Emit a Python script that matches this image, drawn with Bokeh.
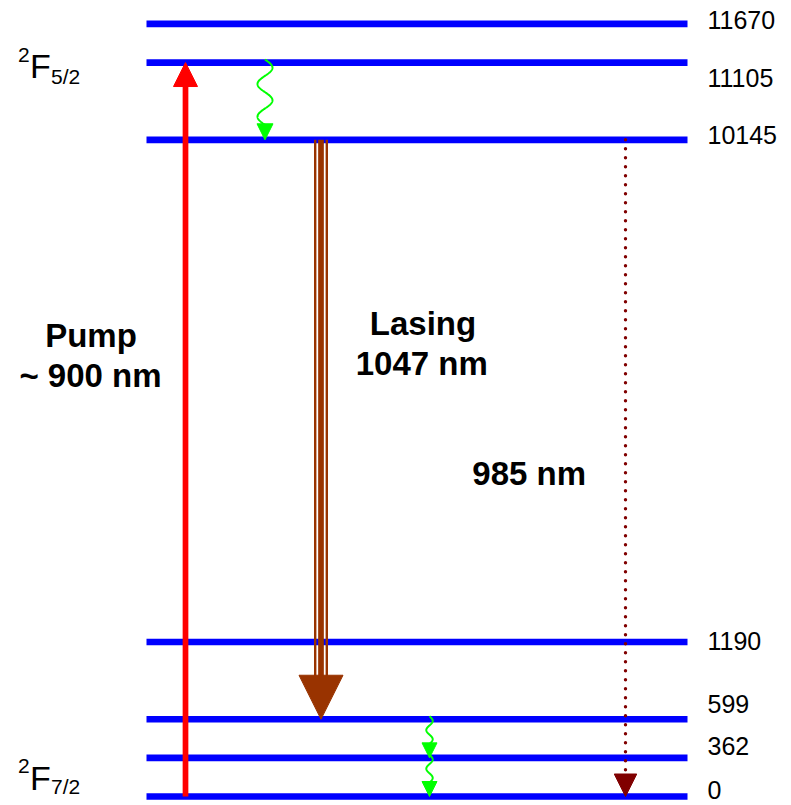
import numpy as np
from bokeh.plotting import figure
from bokeh.models import Range1d, Arrow, NormalHead
from bokeh.embed import file_html
from bokeh.resources import INLINE
from bokeh.core.properties import value

# ---------------- data ----------------
# Yb quasi-three-level scheme; energies in cm^-1
level_energy = [0, 362, 599, 1190, 10145, 11105, 11670]
level_label = ["0", "362", "599", "1190", "10145", "11105", "11670"]
# schematic (not to scale) vertical rank of each level in the diagram
level_slot = [0, 1, 2, 4, 17, 19, 20]
manifold_sup = ["2", "2"]
manifold_main = ["F", "F"]
manifold_sub = ["7/2", "5/2"]

pump_from, pump_to = 0, 11105
relax_upper = (11105, 10145)
lasing_from, lasing_to = 10145, 599
relax_lower = [(599, 362), (362, 0)]
fluor_from, fluor_to = 10145, 0

pump_text = ["Pump", "~ 900 nm"]
lasing_text = ["Lasing", "1047 nm"]
fluor_text = ["985 nm"]

# ---------------- layout ----------------
UNIT = 38.63          # px per schematic slot
Y0 = 796              # page y of slot 0
W, H = 791, 805
slot_of = dict(zip(level_energy, level_slot))


def sy(page_y):
    return (Y0 - page_y) / UNIT


def px(d):
    return d / UNIT


FONT = value("Liberation Sans")

p = figure(width=W, height=H,
           x_range=Range1d(0, W),
           y_range=Range1d(sy(H), sy(0)),
           output_backend="svg", toolbar_location=None,
           x_axis_location=None, y_axis_location=None, min_border=0)
p.grid.grid_line_color = None
p.outline_line_color = None
p.background_fill_color = "white"
p.border_fill_color = "white"

# energy levels
p.segment(x0=146, x1=687, y0=level_slot, y1=level_slot,
          line_color="#0000FF", line_width=6.7)

# label offsets (px, downward) relative to each level line
label_dy = [-7.0, -11.4, -15.6, -0.7, -4.5, 15.1, -4.4]
p.text(x=[707] * len(level_label), y=level_slot, text=level_label,
       y_offset=label_dy, text_font=FONT, text_font_size="25px",
       text_baseline="alphabetic", text_align="left", text_color="black")

# manifold labels
for (ys, yf, yb), sup, main, sub in zip([(765.0, 777.0, 786.0), (54.5, 65.0, 75.5)],
                                         manifold_sup, manifold_main, manifold_sub):
    p.text(x=[17.5], y=[sy(ys)], text=[sup], text_font=FONT, text_font_size="21px",
           text_baseline="alphabetic", text_color="black")
    p.text(x=[29.5], y=[sy(yf)], text=[main], text_font=FONT, text_font_size="34px",
           text_baseline="alphabetic", text_color="black")
    p.text(x=[50.5], y=[sy(yb)], text=[sub], text_font=FONT, text_font_size="21px",
           text_baseline="alphabetic", text_color="black")


def head(x, tip, size, color):
    p.add_layout(Arrow(end=NormalHead(size=size, fill_color=color, line_color=color, line_width=1),
                       x_start=x, y_start=tip + px(size + 10), x_end=x, y_end=tip,
                       line_alpha=0))


# pump arrow (upward)
PX_PUMP = 185
tip = slot_of[pump_to]
p.segment(x0=[PX_PUMP], x1=[PX_PUMP], y0=[slot_of[pump_from]], y1=[tip - px(20)],
          line_color="#FF0000", line_width=5.7)
p.add_layout(Arrow(end=NormalHead(size=24, fill_color="#FF0000", line_color="#FF0000", line_width=1),
                   x_start=PX_PUMP, y_start=tip - px(40), x_end=PX_PUMP, y_end=tip,
                   line_alpha=0))


# wavy non-radiative relaxation arrows
def wavy(xc, e_from, e_to, amp, cycles, hsize):
    y_top = slot_of[e_from] + px(3)
    tip = slot_of[e_to]
    length = (y_top - tip) - px(hsize) + px(1)
    t = np.linspace(0, 1, 300)
    xs = xc + amp * np.sin(2 * np.pi * cycles * t)
    ys = y_top - t * length
    p.line(xs, ys, line_color="#00FF00", line_width=2.0)
    head(xc, tip, hsize, "#00FF00")


wavy(264.5, relax_upper[0], relax_upper[1], 7.5, 2.0, 16)
for a, b in relax_lower:
    wavy(429, a, b, 3.2, 1.5, 15)

# lasing arrow (triple shaft)
PX_LAS = 320.5
tip = slot_of[lasing_to]
base = tip + px(44)
p.segment(x0=[PX_LAS], x1=[PX_LAS], y0=[slot_of[lasing_from]], y1=[base - px(2)],
          line_color="#993300", line_width=5.7)
p.segment(x0=[PX_LAS - 5.8, PX_LAS + 5.8], x1=[PX_LAS - 5.8, PX_LAS + 5.8],
          y0=[slot_of[lasing_from]] * 2, y1=[base - px(2)] * 2,
          line_color="#993300", line_width=2.4)
head(PX_LAS, tip, 44, "#993300")

# 985 nm fluorescence (dotted)
PX_FL = 625
tip = slot_of[fluor_to]
p.line([PX_FL, PX_FL], [slot_of[fluor_from], tip + px(20)], line_color="#800000",
       line_width=3.4, line_dash="0 9", line_cap="round")
head(PX_FL, tip, 22.5, "#800000")

# transition texts
bold = dict(text_font=FONT, text_font_style="bold", text_font_size="33px",
            text_align="center", text_baseline="alphabetic", text_color="black")
p.text(x=[90.5, 90], y=[sy(335.3), sy(374.7)], text=pump_text, **bold)
p.text(x=[422.5, 421.3], y=[sy(322.5), sy(362.5)], text=lasing_text, **bold)
p.text(x=[528.7], y=[sy(473.0)], text=fluor_text, **bold)

open("out.html", "w").write(file_html(p, INLINE))
